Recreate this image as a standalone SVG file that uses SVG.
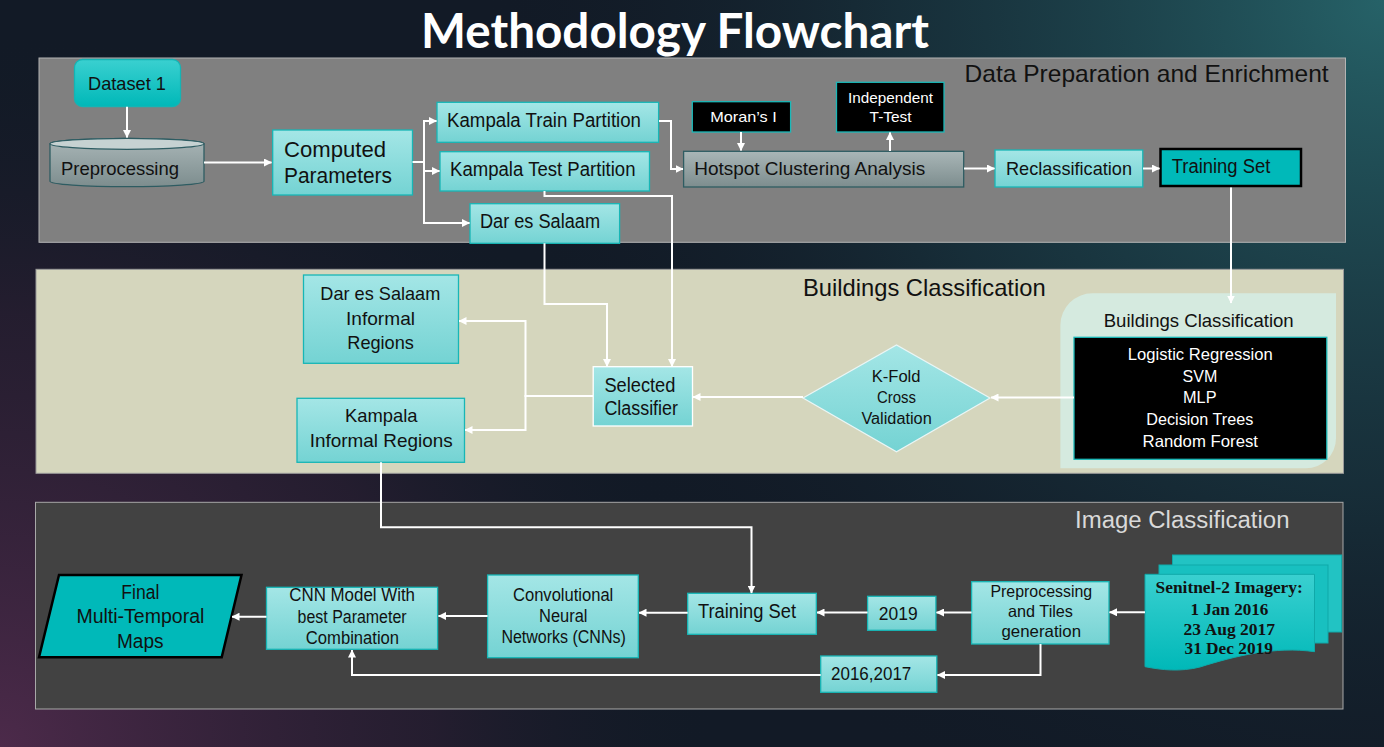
<svg xmlns="http://www.w3.org/2000/svg" width="1384" height="747" viewBox="0 0 1384 747">
<defs>
<radialGradient id="bgTeal" cx="1384" cy="0" r="900" gradientUnits="userSpaceOnUse">
<stop offset="0" stop-color="#266268"/><stop offset="0.55" stop-color="#1a3a44" stop-opacity="0.6"/><stop offset="1" stop-color="#121a26" stop-opacity="0"/>
</radialGradient>
<radialGradient id="bgPurple" cx="0" cy="747" r="720" gradientUnits="userSpaceOnUse">
<stop offset="0" stop-color="#4c2a4a"/><stop offset="0.6" stop-color="#2e1f34" stop-opacity="0.65"/><stop offset="1" stop-color="#121a26" stop-opacity="0"/>
</radialGradient>
<linearGradient id="gCyan" x1="0" y1="0" x2="0" y2="1">
<stop offset="0" stop-color="#a4e6e6"/><stop offset="1" stop-color="#74d3d3"/>
</linearGradient>
<linearGradient id="gGray" x1="0" y1="0" x2="0" y2="1">
<stop offset="0" stop-color="#a9b6b7"/><stop offset="1" stop-color="#7d8d8e"/>
</linearGradient>
<linearGradient id="gTeal" x1="0" y1="0" x2="0" y2="1">
<stop offset="0" stop-color="#3ad0d0"/><stop offset="1" stop-color="#00b8b8"/>
</linearGradient>
<marker id="arr" viewBox="0 0 8 8" refX="7.5" refY="4" markerWidth="8" markerHeight="8" markerUnits="userSpaceOnUse" orient="auto">
<path d="M0,0 L8,4 L0,8 z" fill="#fff"/>
</marker>
<style>
.t{font-family:"Liberation Sans",Arial,sans-serif;fill:#111;}
.w{fill:#fff;}
.lt{fill:#d9d9d9;}
.box{fill:url(#gCyan);stroke:#17b6b6;stroke-width:1.3;}
.gray{fill:url(#gGray);stroke:#2e5c62;stroke-width:1.3;}
.dark{fill:#000;stroke:#1ab8b8;stroke-width:1.3;}
.solid{fill:#00b9b9;stroke:#000;stroke-width:2.5;}
.ln{fill:none;stroke:#fff;stroke-width:2;}
.a{marker-end:url(#arr);}
.sr{font-family:"Liberation Serif","Times New Roman",serif;font-weight:bold;fill:#111;font-size:16px;}
</style>
</defs>

<rect x="0" y="0" width="1384" height="747" fill="#121a26"/>
<rect x="0" y="0" width="1384" height="747" fill="url(#bgTeal)"/>
<rect x="0" y="0" width="1384" height="747" fill="url(#bgPurple)"/>

<text x="421" y="47.5" font-family="Lato,'Open Sans',sans-serif" font-weight="700" font-size="48" fill="#fff" textLength="508" lengthAdjust="spacingAndGlyphs">Methodology Flowchart</text>

<g id="panel-data-preparation">
<rect x="39" y="58" width="1306.5" height="184.3" fill="#808080" stroke="#b4b4b4" stroke-width="1"/>
<text class="t" x="964.6" y="82.3" font-size="24" textLength="364" lengthAdjust="spacingAndGlyphs">Data Preparation and Enrichment</text>
</g>
<g id="panel-buildings">
<rect x="36" y="269.3" width="1307.5" height="204" fill="#d5d6bd" stroke="#9a9a9a" stroke-width="1"/>
<text class="t" x="803" y="295.7" font-size="24" textLength="242.6" lengthAdjust="spacingAndGlyphs">Buildings Classification</text>
</g>
<g id="panel-image">
<rect x="35.5" y="502.3" width="1307.5" height="206.7" fill="#424242" stroke="#a8a8a8" stroke-width="1"/>
<text class="t lt" x="1075" y="528.3" font-size="23" textLength="214.5" lengthAdjust="spacingAndGlyphs">Image Classification</text>
</g>

<g id="node-dataset1">
<rect x="74.5" y="59.5" width="106" height="47" rx="8" fill="url(#gTeal)" stroke="#14b4b4" stroke-width="1.3"/>
<text class="t" x="88" y="90" font-size="19" textLength="78" lengthAdjust="spacingAndGlyphs">Dataset 1</text>
</g>
<g id="node-preprocessing">
<path class="gray" d="M50,143.8 A77,5.5 0 0 1 204,143.8 V181.2 A77,5.5 0 0 1 50,181.2 Z"/>
<ellipse cx="127" cy="143.8" rx="77" ry="5.5" fill="#c6d2d2" stroke="#2e5c62" stroke-width="1.3"/>
<text class="t" x="61" y="174.5" font-size="19" textLength="118" lengthAdjust="spacingAndGlyphs">Preprocessing</text>
</g>
<g id="node-computed">
<rect class="box" x="272.7" y="130" width="139.8" height="65"/>
<text class="t" x="284" y="157.3" font-size="22" textLength="102" lengthAdjust="spacingAndGlyphs">Computed</text>
<text class="t" x="284" y="183.3" font-size="22" textLength="108" lengthAdjust="spacingAndGlyphs">Parameters</text>
</g>
<g id="node-kampala-train">
<rect class="box" x="437" y="102.3" width="221.6" height="40"/>
<text class="t" x="447" y="127.3" font-size="19.5" textLength="194" lengthAdjust="spacingAndGlyphs">Kampala Train Partition</text>
</g>
<g id="node-kampala-test">
<rect class="box" x="440" y="151.7" width="209.5" height="39.3"/>
<text class="t" x="450" y="175.7" font-size="19.5" textLength="185.5" lengthAdjust="spacingAndGlyphs">Kampala Test Partition</text>
</g>
<g id="node-dar">
<rect class="box" x="470" y="203.7" width="149.6" height="39.6"/>
<text class="t" x="480" y="228.3" font-size="19.5" textLength="120" lengthAdjust="spacingAndGlyphs">Dar es Salaam</text>
</g>
<g id="node-moran">
<rect class="dark" x="692.3" y="101.7" width="98.3" height="30.3"/>
<text class="t w" x="710.2" y="121.7" font-size="15" textLength="66.6" lengthAdjust="spacingAndGlyphs">Moran’s I</text>
</g>
<g id="node-ttest">
<rect class="dark" x="836.5" y="82.3" width="107.5" height="49.7"/>
<text class="t w" x="848" y="102.7" font-size="15" textLength="85" lengthAdjust="spacingAndGlyphs">Independent</text>
<text class="t w" x="869.6" y="121.7" font-size="15" textLength="42" lengthAdjust="spacingAndGlyphs">T-Test</text>
</g>
<g id="node-hotspot">
<rect class="gray" x="683.6" y="151.3" width="280.1" height="35.7"/>
<text class="t" x="694.2" y="175" font-size="19" textLength="231" lengthAdjust="spacingAndGlyphs">Hotspot Clustering Analysis</text>
</g>
<g id="node-reclass">
<rect class="box" x="995" y="150" width="147.8" height="37"/>
<text class="t" x="1006" y="175" font-size="19" textLength="126" lengthAdjust="spacingAndGlyphs">Reclassification</text>
</g>
<g id="node-training-top">
<rect class="solid" x="1160.5" y="149" width="140.5" height="37"/>
<text class="t" x="1171.7" y="173.3" font-size="19.5" textLength="98.7" lengthAdjust="spacingAndGlyphs">Training Set</text>
</g>

<g id="node-dar-informal">
<rect class="box" x="303.5" y="275" width="155" height="88.3"/>
<text class="t" x="320.3" y="300" font-size="18.5" textLength="120" lengthAdjust="spacingAndGlyphs">Dar es Salaam</text>
<text class="t" x="346" y="325" font-size="18.5" textLength="69" lengthAdjust="spacingAndGlyphs">Informal</text>
<text class="t" x="347.3" y="349.3" font-size="18.5" textLength="66.6" lengthAdjust="spacingAndGlyphs">Regions</text>
</g>
<g id="node-kampala-informal">
<rect class="box" x="297" y="398.3" width="167.5" height="64"/>
<text class="t" x="344.9" y="422.3" font-size="18.5" textLength="72.6" lengthAdjust="spacingAndGlyphs">Kampala</text>
<text class="t" x="309.8" y="446.7" font-size="18.5" textLength="142.8" lengthAdjust="spacingAndGlyphs">Informal Regions</text>
</g>
<g id="node-selected">
<rect x="593.2" y="366.7" width="99.3" height="59.3" fill="url(#gCyan)" stroke="#fff" stroke-width="1.3"/>
<text class="t" x="604.4" y="391.7" font-size="19.5" textLength="71" lengthAdjust="spacingAndGlyphs">Selected</text>
<text class="t" x="604.4" y="415" font-size="19.5" textLength="73.6" lengthAdjust="spacingAndGlyphs">Classifier</text>
</g>
<g id="node-kfold">
<polygon points="803,398 896.5,345 990,398 896.5,451.7" fill="url(#gCyan)" stroke="#eaf6f6" stroke-width="1.2"/>
<text class="t" x="871.7" y="381.7" font-size="16" textLength="48.8" lengthAdjust="spacingAndGlyphs">K-Fold</text>
<text class="t" x="877" y="403.3" font-size="16" textLength="39" lengthAdjust="spacingAndGlyphs">Cross</text>
<text class="t" x="861.4" y="424" font-size="16" textLength="70.3" lengthAdjust="spacingAndGlyphs">Validation</text>
</g>
<g id="node-buildings-classification">
<path d="M1060.4,468.3 V325 A32,32 0 0 1 1092.4,293.3 H1336 V438.3 A30,30 0 0 1 1306,468.3 Z" fill="#d5eadf"/>
<text class="t" x="1103.7" y="326.7" font-size="18.5" textLength="190" lengthAdjust="spacingAndGlyphs">Buildings Classification</text>
<rect class="dark" x="1074" y="337.3" width="252.8" height="122"/>
<text class="t w" x="1127.8" y="360" font-size="16.5" textLength="145" lengthAdjust="spacingAndGlyphs">Logistic Regression</text>
<text class="t w" x="1182.5" y="381.7" font-size="16.5" textLength="34.8" lengthAdjust="spacingAndGlyphs">SVM</text>
<text class="t w" x="1183" y="403.3" font-size="16.5" textLength="33.5" lengthAdjust="spacingAndGlyphs">MLP</text>
<text class="t w" x="1146.3" y="425" font-size="16.5" textLength="107" lengthAdjust="spacingAndGlyphs">Decision Trees</text>
<text class="t w" x="1142.6" y="446.7" font-size="16.5" textLength="115.4" lengthAdjust="spacingAndGlyphs">Random Forest</text>
</g>

<g id="node-final">
<polygon class="solid" points="59,575 241.5,575 221.7,657.3 39,657.3"/>
<text class="t" x="121.3" y="599.3" font-size="19.5" textLength="38" lengthAdjust="spacingAndGlyphs">Final</text>
<text class="t" x="76.4" y="623.3" font-size="19.5" textLength="128" lengthAdjust="spacingAndGlyphs">Multi-Temporal</text>
<text class="t" x="117" y="648.3" font-size="19.5" textLength="46.5" lengthAdjust="spacingAndGlyphs">Maps</text>
</g>
<g id="node-cnn-model">
<rect class="box" x="266.5" y="587.3" width="171.1" height="62"/>
<text class="t" x="289.3" y="601" font-size="17.5" textLength="125.7" lengthAdjust="spacingAndGlyphs">CNN Model With</text>
<text class="t" x="297.6" y="623.3" font-size="17.5" textLength="109" lengthAdjust="spacingAndGlyphs">best Parameter</text>
<text class="t" x="305.8" y="644" font-size="17.5" textLength="93.3" lengthAdjust="spacingAndGlyphs">Combination</text>
</g>
<g id="node-cnns">
<rect class="box" x="487.6" y="575" width="150.7" height="82.7"/>
<text class="t" x="513" y="601" font-size="17.5" textLength="100.3" lengthAdjust="spacingAndGlyphs">Convolutional</text>
<text class="t" x="539" y="622.3" font-size="17.5" textLength="48.5" lengthAdjust="spacingAndGlyphs">Neural</text>
<text class="t" x="501.4" y="643.3" font-size="17.5" textLength="124.4" lengthAdjust="spacingAndGlyphs">Networks (CNNs)</text>
</g>
<g id="node-training-bottom">
<rect class="box" x="687.7" y="593.3" width="128.6" height="41"/>
<text class="t" x="698" y="618.3" font-size="19.5" textLength="98" lengthAdjust="spacingAndGlyphs">Training Set</text>
</g>
<g id="node-2019">
<rect class="box" x="867.6" y="596.3" width="68.3" height="34"/>
<text class="t" x="878.8" y="620" font-size="18.5" textLength="38.8" lengthAdjust="spacingAndGlyphs">2019</text>
</g>
<g id="node-preproc-tiles">
<rect class="box" x="971.6" y="581.7" width="137.4" height="62.3"/>
<text class="t" x="990.4" y="596.7" font-size="16.5" textLength="101.8" lengthAdjust="spacingAndGlyphs">Preprocessing</text>
<text class="t" x="1008" y="616.7" font-size="16.5" textLength="65" lengthAdjust="spacingAndGlyphs">and Tiles</text>
<text class="t" x="1001.5" y="636.7" font-size="16.5" textLength="79.5" lengthAdjust="spacingAndGlyphs">generation</text>
</g>
<g id="node-2016-2017">
<rect class="box" x="820.7" y="656" width="116.1" height="36.3"/>
<text class="t" x="831" y="680" font-size="19" textLength="80.3" lengthAdjust="spacingAndGlyphs">2016,2017</text>
</g>
<g id="node-sentinel">
<rect x="1172.5" y="555" width="169.2" height="77" fill="#22c3c3" stroke="#0fa9a9" stroke-width="1"/>
<rect x="1159" y="565" width="169" height="78" fill="#18c0c0" stroke="#0fa9a9" stroke-width="1"/>
<path d="M1145,574.3 H1314.5 V651.7 C1275,646 1235,656 1200,667 C1180,672 1162,670 1145,666.7 Z" fill="url(#gTeal)" stroke="#0fa9a9" stroke-width="1"/>
<text class="sr" x="1155.5" y="593.3" textLength="147.3" lengthAdjust="spacingAndGlyphs">Senitnel-2 Imagery:</text>
<text class="sr" x="1190.4" y="615" textLength="78" lengthAdjust="spacingAndGlyphs">1 Jan 2016</text>
<text class="sr" x="1183.6" y="635" textLength="91.5" lengthAdjust="spacingAndGlyphs">23 Aug 2017</text>
<text class="sr" x="1184.5" y="654.3" textLength="88.4" lengthAdjust="spacingAndGlyphs">31 Dec 2019</text>
</g>

<g id="connectors">
<path class="ln a" d="M127,106.7 V137.5"/>
<path class="ln a" d="M204,162.5 H271.5"/>
<path class="ln" d="M412.5,162 H424 M424,121 V223"/>
<path class="ln a" d="M423,121 H436.5"/>
<path class="ln a" d="M423,171 H439.5"/>
<path class="ln a" d="M423,223 H469.5"/>
<path class="ln a" d="M659,121 H671 V169 H683"/>
<path class="ln a" d="M741,132 V150.5"/>
<path class="ln a" d="M890,151 V132.5"/>
<path class="ln a" d="M964,168.5 H994.5"/>
<path class="ln a" d="M1143,168.5 H1159.5"/>
<path class="ln a" d="M1231,187.5 V303" stroke-width="1.5"/>
<path class="ln a" d="M544.5,191 V196 H672 V366.5" stroke-width="1.6"/>
<path class="ln a" d="M544.5,243.3 V304 H607 V366.5" stroke-width="1.6"/>
<path class="ln a" d="M1074,397.5 H991"/>
<path class="ln a" d="M803,397 H693"/>
<path class="ln a" d="M593,396 H525.5 V321 H459"/>
<path class="ln a" d="M525.5,395 V430 H465"/>
<path class="ln a" d="M381,462.3 V527.3 H751.5 V593" stroke-width="1.6"/>
<path class="ln a" d="M1145,612.3 H1109.5"/>
<path class="ln a" d="M971.6,612.5 H936.5"/>
<path class="ln a" d="M867.6,612.5 H817"/>
<path class="ln a" d="M687.7,612.7 H639"/>
<path class="ln a" d="M487.6,616 H438.5"/>
<path class="ln a" d="M266.5,616.7 H232"/>
<path class="ln a" d="M1040.5,644 V675 H937.5"/>
<path class="ln a" d="M820.7,675 H352 V650"/>
</g>
</svg>
